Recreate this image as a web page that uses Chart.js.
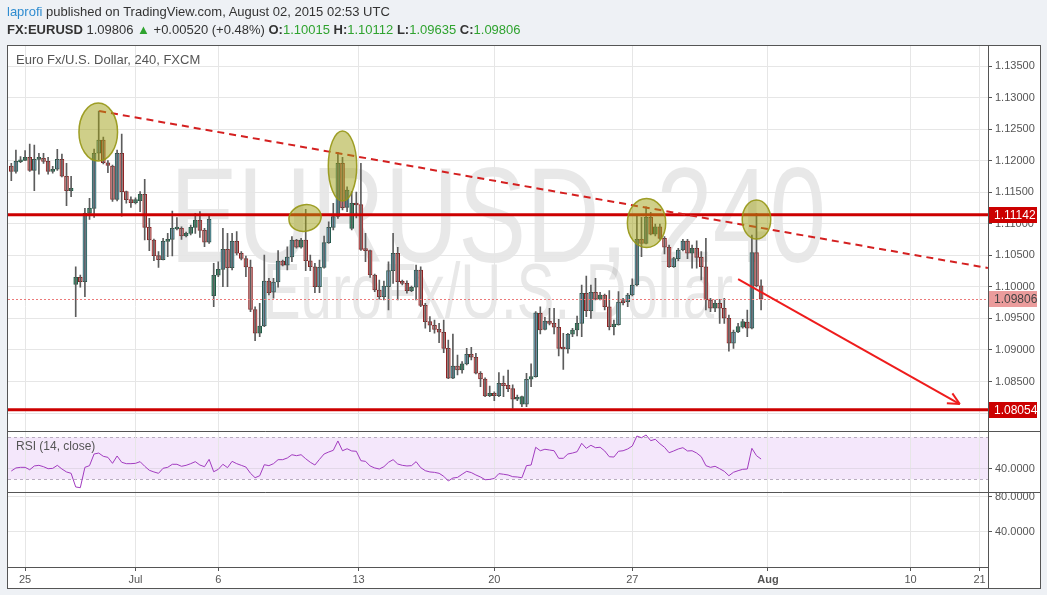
<!DOCTYPE html>
<html>
<head>
<meta charset="utf-8">
<script src="https://cdn.jsdelivr.net/npm/chart.js@4.4.0/dist/chart.umd.min.js"></script>
<style>
  body { margin: 0; background: #eef1f5; font-family: "Liberation Sans", Arial, sans-serif; }
  #wrap { position: relative; width: 1047px; height: 595px; overflow: hidden; }
  #chart { position: absolute; left: 0; top: 0; }
  #head { position: absolute; left: 7px; top: 3px; font-size: 13px; color: #333; line-height: 18px; white-space: nowrap; }
  #head .user { color: #2f8cd0; }
  #head .g { color: #2fa32f; }
</style>
</head>
<body>
<div id="wrap">
  <canvas id="chart" width="1047" height="595"></canvas>
  <div id="head">
    <div><span class="user">laprofi</span> published on TradingView.com, August 02, 2015 02:53 UTC</div>
    <div><b>FX:EURUSD</b> 1.09806 <span class="g">&#9650;</span> +0.00520 (+0.48%) <b>O:</b><span class="g">1.10015</span> <b>H:</b><span class="g">1.10112</span> <b>L:</b><span class="g">1.09635</span> <b>C:</b><span class="g">1.09806</span></div>
  </div>
</div>
<script>
const family = '"Liberation Sans", Arial, sans-serif';

// 4H bars, index 0 = first bar on the chart (Jun 24), last = Jul 31 close
const opens = [
  1.11915, 1.11831, 1.11983, 1.12005, 1.12053, 1.11847, 1.12021, 1.12037, 1.11989, 1.11831,
  1.11863, 1.12021, 1.11752, 1.11524, 1.10040, 1.10151, 1.10081, 1.11165, 1.11244, 1.12117,
  1.12327, 1.11967, 1.11915, 1.11384, 1.12117, 1.11508, 1.11381, 1.11333, 1.11365, 1.11466,
  1.10943, 1.10742, 1.10494, 1.10430, 1.10721, 1.10753, 1.10916, 1.10927, 1.10806, 1.10848,
  1.10943, 1.11059, 1.10896, 1.10706, 1.09860, 1.10183, 1.10278, 1.10595, 1.10303, 1.10721,
  1.10532, 1.10449, 1.10314, 1.09641, 1.09264, 1.09380, 1.10093, 1.09914, 1.10077, 1.10410,
  1.10342, 1.10473, 1.10742, 1.10627, 1.10742, 1.10414, 1.10319, 1.10002, 1.10309, 1.10700,
  1.10943, 1.11115, 1.11958, 1.11257, 1.10927, 1.11324, 1.11305, 1.10595, 1.10573, 1.10188,
  1.09950, 1.09844, 1.10002, 1.10256, 1.10532, 1.10081, 1.10056, 1.09939, 1.09993, 1.10267,
  1.09707, 1.09448, 1.09391, 1.09327, 1.09280, 1.09026, 1.08551, 1.08746, 1.08682, 1.08778,
  1.08931, 1.08884, 1.08630, 1.08540, 1.08275, 1.08312, 1.08275, 1.08471, 1.08440, 1.08386,
  1.08218, 1.08139, 1.08139, 1.08535, 1.08576, 1.09581, 1.09327, 1.09459, 1.09422, 1.09359,
  1.09031, 1.09015, 1.09248, 1.09316, 1.09422, 1.09898, 1.09622, 1.09914, 1.09803, 1.09871,
  1.09685, 1.09369, 1.09400, 1.09760, 1.09765, 1.09871, 1.10029, 1.10753, 1.10690, 1.11102,
  1.10833, 1.10953, 1.10769, 1.10627, 1.10319, 1.10446, 1.10584, 1.10727, 1.10532, 1.10611,
  1.10468, 1.10319, 1.09792, 1.09660, 1.09739, 1.09660, 1.09502, 1.09106, 1.09284, 1.09359,
  1.09443, 1.09343, 1.10541, 1.10015
];
const highs = [
  1.11958, 1.12169, 1.12063, 1.12158, 1.12264, 1.12248, 1.12117, 1.12117, 1.12053, 1.11910,
  1.12180, 1.12106, 1.11958, 1.11752, 1.10319, 1.10188, 1.11244, 1.11403, 1.12185, 1.12787,
  1.12375, 1.12002, 1.11931, 1.12169, 1.12422, 1.11519, 1.11428, 1.11412, 1.11508, 1.11704,
  1.11086, 1.10758, 1.10557, 1.10769, 1.10848, 1.11202, 1.11099, 1.10953, 1.10869, 1.10980,
  1.11165, 1.11191, 1.10927, 1.11138, 1.10373, 1.10398, 1.10927, 1.10848, 1.10848, 1.10874,
  1.10557, 1.10489, 1.10425, 1.09685, 1.09739, 1.10505, 1.10135, 1.10135, 1.10573, 1.10425,
  1.10636, 1.10795, 1.10753, 1.10769, 1.11229, 1.10505, 1.10373, 1.10425, 1.10806, 1.11032,
  1.11324, 1.12132, 1.12053, 1.11587, 1.11508, 1.11503, 1.11958, 1.10848, 1.10584, 1.10204,
  1.10108, 1.10093, 1.10398, 1.10848, 1.10627, 1.10108, 1.10097, 1.10013, 1.10346, 1.10319,
  1.09739, 1.09527, 1.09475, 1.09422, 1.09475, 1.09158, 1.09253, 1.08920, 1.08814, 1.09026,
  1.09042, 1.08947, 1.08656, 1.08556, 1.08429, 1.08338, 1.08640, 1.08587, 1.08682, 1.08445,
  1.08286, 1.08270, 1.08630, 1.08778, 1.09606, 1.09685, 1.09518, 1.09660, 1.09660, 1.09486,
  1.09264, 1.09264, 1.09343, 1.09538, 1.10029, 1.10172, 1.10029, 1.10135, 1.09914, 1.09887,
  1.09939, 1.09475, 1.09923, 1.09819, 1.09898, 1.10127, 1.11138, 1.11102, 1.11270, 1.11181,
  1.10996, 1.10996, 1.10795, 1.10663, 1.10468, 1.10611, 1.10753, 1.10753, 1.10663, 1.10731,
  1.10557, 1.10769, 1.09819, 1.09792, 1.09803, 1.09819, 1.09554, 1.09316, 1.09422, 1.09486,
  1.09633, 1.10822, 1.11165, 1.10112
];
const lows = [
  1.11682, 1.11800, 1.11967, 1.11999, 1.11831, 1.11524, 1.11784, 1.11958, 1.11784, 1.11800,
  1.11847, 1.11741, 1.11286, 1.11428, 1.09527, 1.09993, 1.09844, 1.11070, 1.11102, 1.12010,
  1.11947, 1.11809, 1.11352, 1.11360, 1.11122, 1.11328, 1.11260, 1.11313, 1.11191, 1.10742,
  1.10573, 1.10414, 1.10309, 1.10425, 1.10478, 1.10489, 1.10901, 1.10753, 1.10790, 1.10822,
  1.10848, 1.10785, 1.10636, 1.10690, 1.09685, 1.10161, 1.10002, 1.10002, 1.10267, 1.10505,
  1.10425, 1.10161, 1.09606, 1.09147, 1.09210, 1.09369, 1.09871, 1.09819, 1.09993, 1.10331,
  1.10267, 1.10398, 1.10611, 1.10611, 1.10256, 1.10256, 1.09907, 1.09907, 1.10294, 1.10690,
  1.10901, 1.11086, 1.11218, 1.11191, 1.10901, 1.11091, 1.10576, 1.10398, 1.10151, 1.09923,
  1.09803, 1.09792, 1.09633, 1.10056, 1.09792, 1.10029, 1.09898, 1.09923, 1.09792, 1.09685,
  1.09343, 1.09289, 1.09264, 1.09115, 1.08956, 1.08543, 1.08543, 1.08603, 1.08630, 1.08762,
  1.08841, 1.08619, 1.08418, 1.08259, 1.08259, 1.08196, 1.08259, 1.08259, 1.08338, 1.08075,
  1.08196, 1.08101, 1.08101, 1.08418, 1.08567, 1.09253, 1.09316, 1.09396, 1.09253, 1.08904,
  1.08693, 1.08947, 1.09210, 1.09221, 1.09210, 1.09527, 1.09501, 1.09792, 1.09792, 1.09633,
  1.09316, 1.09237, 1.09391, 1.09712, 1.09685, 1.09855, 1.10013, 1.10478, 1.10679, 1.10822,
  1.10806, 1.10753, 1.10521, 1.10309, 1.10309, 1.10414, 1.10568, 1.10446, 1.10294, 1.10294,
  1.10108, 1.09633, 1.09606, 1.09606, 1.09422, 1.09422, 1.08982, 1.09026, 1.09273, 1.09343,
  1.09210, 1.09332, 1.09997, 1.09635
];
const closes = [
  1.11831, 1.11989, 1.12005, 1.12053, 1.11847, 1.12021, 1.12037, 1.11989, 1.11831, 1.11863,
  1.12021, 1.11752, 1.11524, 1.11561, 1.10151, 1.10081, 1.11165, 1.11244, 1.12117, 1.12327,
  1.11967, 1.11923, 1.11384, 1.12117, 1.11508, 1.11381, 1.11333, 1.11381, 1.11466, 1.10943,
  1.10742, 1.10494, 1.10430, 1.10721, 1.10753, 1.10927, 1.10924, 1.10806, 1.10848, 1.10943,
  1.11059, 1.10896, 1.10706, 1.11070, 1.10183, 1.10278, 1.10595, 1.10303, 1.10721, 1.10532,
  1.10449, 1.10314, 1.09641, 1.09264, 1.09380, 1.10093, 1.09907, 1.10077, 1.10410, 1.10342,
  1.10473, 1.10742, 1.10627, 1.10742, 1.10414, 1.10319, 1.10002, 1.10309, 1.10700, 1.10943,
  1.11115, 1.11958, 1.11254, 1.11535, 1.11324, 1.11297, 1.10595, 1.10573, 1.10188, 1.09950,
  1.09844, 1.10013, 1.10256, 1.10532, 1.10081, 1.10056, 1.09939, 1.09993, 1.10267, 1.09707,
  1.09448, 1.09391, 1.09327, 1.09280, 1.09026, 1.08551, 1.08746, 1.08682, 1.08778, 1.08931,
  1.08884, 1.08630, 1.08540, 1.08270, 1.08312, 1.08275, 1.08471, 1.08433, 1.08386, 1.08218,
  1.08250, 1.08259, 1.08535, 1.08576, 1.09590, 1.09316, 1.09459, 1.09422, 1.09359, 1.09026,
  1.09015, 1.09248, 1.09316, 1.09422, 1.09898, 1.09622, 1.09914, 1.09803, 1.09871, 1.09685,
  1.09369, 1.09411, 1.09760, 1.09749, 1.09871, 1.10029, 1.10753, 1.10690, 1.11102, 1.10833,
  1.10953, 1.10769, 1.10627, 1.10319, 1.10446, 1.10584, 1.10727, 1.10532, 1.10611, 1.10468,
  1.10319, 1.09792, 1.09660, 1.09739, 1.09660, 1.09502, 1.09106, 1.09284, 1.09369, 1.09448,
  1.09343, 1.10541, 1.10015, 1.09806
];
// RSI (14, close)
const rsi = [
  37.9, 40.8, 41.4, 41.4, 39.1, 42.7, 43.3, 42.0, 40.1, 40.4,
  43.3, 39.8, 37.0, 35.7, 22.7, 22.0, 41.4, 43.0, 54.1, 55.0,
  51.9, 50.9, 45.2, 52.2, 46.2, 44.9, 44.9, 45.2, 46.8, 42.4,
  38.6, 37.0, 35.7, 40.5, 41.4, 44.3, 44.3, 42.4, 43.3, 44.9,
  46.8, 43.6, 42.0, 49.0, 37.2, 39.5, 44.3, 41.1, 47.1, 44.9,
  43.3, 41.7, 35.7, 31.5, 33.4, 43.9, 43.0, 44.9, 48.7, 48.7,
  50.3, 53.4, 52.5, 53.4, 49.6, 46.2, 43.6, 49.0, 54.1, 56.0,
  57.6, 66.5, 57.2, 59.1, 57.0, 56.7, 47.7, 47.1, 42.7, 40.8,
  39.8, 42.0, 46.2, 48.7, 44.6, 43.3, 42.7, 43.0, 46.8, 41.1,
  38.2, 37.0, 36.6, 35.7, 32.9, 28.4, 31.2, 31.8, 34.8, 37.6,
  36.4, 34.1, 32.2, 29.6, 29.9, 30.8, 35.4, 34.8, 34.1, 32.5,
  32.2, 31.5, 43.0, 43.6, 60.5, 57.2, 58.6, 57.9, 57.2, 50.0,
  50.0, 54.1, 55.0, 56.3, 64.3, 59.5, 62.4, 60.1, 60.5, 57.0,
  51.5, 51.2, 56.7, 57.2, 58.9, 61.7, 71.2, 69.6, 72.2, 66.8,
  68.1, 63.9, 60.5, 55.3, 57.0, 58.9, 60.1, 57.0, 57.2, 55.0,
  51.5, 43.0, 41.4, 42.4, 40.1, 37.6, 33.4, 36.7, 38.2, 39.5,
  39.8, 59.5, 52.5, 49.3
];
const rsiBand = [30, 70];

const dateTickBars = [3, 27, 45, 75.5, 105, 135, 164.5, 195.5, 210.5];
const dateTickLabels = ['25', 'Jul', '6', '13', '20', '27', 'Aug', '10', '21'];
const priceTicks = [1.080, 1.085, 1.090, 1.095, 1.100, 1.105, 1.110, 1.115, 1.120, 1.125, 1.130, 1.135];
const rsiTicks = [40];
const lowerTicks = [80, 40];

// drawings, in (bar, price) units
const levelLines = [1.11142, 1.08054];
const lastClose = 1.09806;
const trendLine = [[19.1, 1.12787], [212.3, 1.10299]];
const arrowLine = [[158.0, 1.10124], [206.2, 1.08143]];
// [bar, price, radius in bars, radius in price, tilt]
const circled = [
  [18.9, 1.12454, 4.2, 0.0046, 0],
  [63.85, 1.11091, 3.54, 0.0021, -0.25],
  [72.0, 1.11915, 3.09, 0.00555, 0],
  [138.1, 1.11012, 4.17, 0.0039, 0],
  [162.0, 1.11067, 3.1, 0.0031, 0]
];

const bars = closes.map((c, i) => i);

function candleColors(i) {
  if (closes[i] < opens[i]) return ['#ee9a9a', '#8c2020'];
  const prev = i > 0 ? closes[i - 1] : opens[i];
  if (closes[i] - prev > 0.0012) return ['#8cc1e9', '#24574a'];
  return ['#47a27a', '#1f5944'];
}

function line(ctx, x1, y1, x2, y2) {
  ctx.beginPath();
  ctx.moveTo(x1, y1);
  ctx.lineTo(x2, y2);
  ctx.stroke();
}

function squashedText(ctx, text, cx, base, size, targetW) {
  ctx.font = size + 'px ' + family;
  const w = ctx.measureText(text).width;
  ctx.save();
  ctx.translate(cx, base);
  ctx.scale(targetW / w, 1);
  ctx.fillText(text, 0, 0);
  ctx.restore();
}

const decor = {
  id: 'decor',
  beforeDraw(chart) {
    const {ctx, chartArea: a, scales} = chart;
    const p = scales.y, r = scales.yRsi, x = scales.x;
    ctx.save();
    ctx.fillStyle = '#ffffff';
    ctx.fillRect(a.left - 1, a.top - 1, p.right - a.left + 1, x.bottom - a.top + 1);

    // RSI band
    const t = r.getPixelForValue(rsiBand[1]), b = r.getPixelForValue(rsiBand[0]);
    ctx.fillStyle = '#f4e7fb';
    ctx.fillRect(a.left, t, a.right - a.left, b - t);
    ctx.strokeStyle = '#b9adc0';
    ctx.lineWidth = 1;
    ctx.setLineDash([3, 3]);
    line(ctx, a.left, Math.round(t) + 0.5, a.right, Math.round(t) + 0.5);
    line(ctx, a.left, Math.round(b) + 0.5, a.right, Math.round(b) + 0.5);
    ctx.setLineDash([]);

    // watermark
    const cx = (a.left + a.right) / 2, ph = p.bottom - p.top;
    ctx.fillStyle = 'rgba(80,80,80,0.13)';
    ctx.textAlign = 'center';
    ctx.textBaseline = 'alphabetic';
    squashedText(ctx, 'EURUSD, 240', cx, p.top + ph * 0.5615, 135, 656);
    squashedText(ctx, 'EuroFx/U.S. Dollar', cx, p.top + ph * 0.707, 78, 470);
    ctx.restore();
  },
  afterDatasetsDraw(chart) {
    const {ctx, chartArea: a, scales} = chart;
    const p = scales.y, x = scales.x;
    ctx.save();
    ctx.beginPath();
    ctx.rect(a.left, p.top, a.right - a.left, p.bottom - p.top);
    ctx.clip();

    ctx.strokeStyle = '#cc0000';
    ctx.lineWidth = 3;
    levelLines.forEach(v => {
      const yy = p.getPixelForValue(v);
      line(ctx, a.left, yy, a.right, yy);
    });

    ctx.lineWidth = 1;
    ctx.strokeStyle = '#ec7a7a';
    ctx.setLineDash([2, 2]);
    const ly = Math.round(p.getPixelForValue(lastClose)) + 0.5;
    line(ctx, a.left, ly, a.right, ly);

    ctx.strokeStyle = '#d42020';
    ctx.lineWidth = 2;
    ctx.setLineDash([7, 5]);
    line(ctx, x.getPixelForValue(trendLine[0][0]), p.getPixelForValue(trendLine[0][1]),
      x.getPixelForValue(trendLine[1][0]), p.getPixelForValue(trendLine[1][1]));
    ctx.setLineDash([]);

    // arrow
    const ax1 = x.getPixelForValue(arrowLine[0][0]), ay1 = p.getPixelForValue(arrowLine[0][1]);
    const ax2 = x.getPixelForValue(arrowLine[1][0]), ay2 = p.getPixelForValue(arrowLine[1][1]);
    ctx.strokeStyle = '#ee1c1c';
    ctx.lineWidth = 2;
    line(ctx, ax1, ay1, ax2, ay2);
    const ang = Math.atan2(ay2 - ay1, ax2 - ax1);
    [0.45, -0.45].forEach(d => {
      line(ctx, ax2, ay2, ax2 - 13 * Math.cos(ang + d), ay2 - 13 * Math.sin(ang + d));
    });

    // highlighted zones
    circled.forEach(([bar, price, rb, rp, tilt]) => {
      const cx = x.getPixelForValue(bar), cy = p.getPixelForValue(price);
      const rx = Math.abs(x.getPixelForValue(bar + rb) - cx);
      const ry = Math.abs(p.getPixelForValue(price + rp) - cy);
      ctx.beginPath();
      ctx.ellipse(cx, cy, rx, ry, tilt, 0, Math.PI * 2);
      ctx.fillStyle = 'rgba(160,160,20,0.5)';
      ctx.fill();
      ctx.strokeStyle = 'rgba(150,150,20,0.9)';
      ctx.lineWidth = 1.5;
      ctx.stroke();
    });
    ctx.restore();
  },
  afterDraw(chart) {
    const {ctx, chartArea: a, scales} = chart;
    const p = scales.y, r = scales.yRsi, x = scales.x;
    ctx.save();
    ctx.strokeStyle = '#555';
    ctx.lineWidth = 1;
    const L = a.left - 0.5, R = p.right + 0.5, T = a.top - 0.5, B = x.bottom + 0.5;
    ctx.strokeRect(L, T, R - L, B - T);
    line(ctx, Math.round(a.right) + 0.5, T, Math.round(a.right) + 0.5, B);
    line(ctx, L, Math.round(p.bottom) + 0.5, R, Math.round(p.bottom) + 0.5);
    line(ctx, L, Math.round(r.bottom) + 0.5, R, Math.round(r.bottom) + 0.5);
    line(ctx, L, Math.round(a.bottom) + 0.5, Math.round(a.right) + 0.5, Math.round(a.bottom) + 0.5);

    // axis price tags
    const tags = [[levelLines[0], '#cc0000', '#ffffff'], [levelLines[1], '#cc0000', '#ffffff'], [lastClose, '#eb9c9c', '#444']];
    ctx.font = '12px ' + family;
    ctx.textBaseline = 'middle';
    ctx.textAlign = 'left';
    tags.forEach(([v, bg, fg]) => {
      const yy = Math.round(p.getPixelForValue(v));
      ctx.fillStyle = bg;
      ctx.fillRect(a.right + 1, yy - 8, 48, 16);
      ctx.fillStyle = fg;
      ctx.fillText(v.toFixed(5), a.right + 6, yy + 1);
    });

    // pane titles
    ctx.fillStyle = '#555';
    ctx.font = '13px ' + family;
    ctx.fillText('Euro Fx/U.S. Dollar, 240, FXCM', a.left + 8, p.top + 14);
    ctx.font = '12px ' + family;
    ctx.fillText('RSI (14, close)', a.left + 8, r.top + 16);
    ctx.restore();
  }
};

const yTickFmt = d => v => v.toFixed(d);

new Chart(document.getElementById('chart'), {
  type: 'line',
  data: {
    datasets: [
      {
        type: 'bar',
        label: 'wicks',
        data: bars.map(i => ({x: i, y: [lows[i], highs[i]]})),
        backgroundColor: '#5c5c5c',
        barThickness: 1,
        grouped: false,
        yAxisID: 'y'
      },
      {
        type: 'bar',
        label: 'bodies',
        data: bars.map(i => ({x: i, y: [opens[i], closes[i]]})),
        backgroundColor: c => candleColors(c.dataIndex)[0],
        borderColor: c => candleColors(c.dataIndex)[1],
        borderWidth: 1,
        borderSkipped: false,
        barThickness: 4,
        minBarLength: 2,
        grouped: false,
        yAxisID: 'y'
      },
      {
        type: 'line',
        label: 'RSI',
        data: bars.map(i => ({x: i, y: rsi[i]})),
        borderColor: '#a23cc0',
        borderWidth: 1,
        pointRadius: 0,
        tension: 0,
        yAxisID: 'yRsi'
      }
    ]
  },
  options: {
    responsive: false,
    animation: false,
    devicePixelRatio: 1,
    layout: { padding: { left: 8, top: 46, right: 7, bottom: 7 } },
    plugins: { legend: { display: false }, tooltip: { enabled: false } },
    scales: {
      x: {
        type: 'linear',
        min: -0.72,
        max: 212.33,
        offset: false,
        grid: { color: '#e6e6e6', tickColor: '#555', tickLength: 4, offset: false },
        border: { display: false },
        afterBuildTicks: s => { s.ticks = dateTickBars.map(v => ({value: v})); },
        afterFit: s => { s.height = 21; },
        ticks: {
          autoSkip: false,
          maxRotation: 0,
          padding: 2,
          color: '#555',
          callback: (v, i) => dateTickLabels[i],
          font: c => ({family: family, size: 11, weight: (c.tick && c.tick.label === 'Aug') ? 'bold' : 'normal'})
        }
      },
      y: {
        position: 'right',
        stack: 'panes',
        stackWeight: 384.7,
        min: 1.07720,
        max: 1.13817,
        grid: { color: '#e6e6e6', tickColor: '#555', tickLength: 4 },
        border: { display: false },
        afterBuildTicks: s => { s.ticks = priceTicks.map(v => ({value: v})); },
        afterFit: s => { s.width = 52; },
        ticks: { callback: yTickFmt(5), color: '#555', padding: 3, font: {family: family, size: 11} }
      },
      yRsi: {
        position: 'right',
        stack: 'panes',
        stackWeight: 61.6,
        min: 17.62,
        max: 76.29,
        grid: { color: '#e2d8e8', tickColor: '#555', tickLength: 4 },
        border: { display: false },
        afterBuildTicks: s => { s.ticks = rsiTicks.map(v => ({value: v})); },
        afterFit: s => { s.width = 52; },
        ticks: { callback: yTickFmt(4), color: '#555', padding: 3, font: {family: family, size: 11} }
      },
      yLow: {
        position: 'right',
        stack: 'panes',
        stackWeight: 74.7,
        min: 0,
        max: 85.37,
        grid: { color: '#e6e6e6', tickColor: '#555', tickLength: 4 },
        border: { display: false },
        afterBuildTicks: s => { s.ticks = lowerTicks.map(v => ({value: v})); },
        afterFit: s => { s.width = 52; },
        ticks: { callback: yTickFmt(4), color: '#555', padding: 3, font: {family: family, size: 11} }
      }
    }
  },
  plugins: [decor]
});
</script>
</body>
</html>
